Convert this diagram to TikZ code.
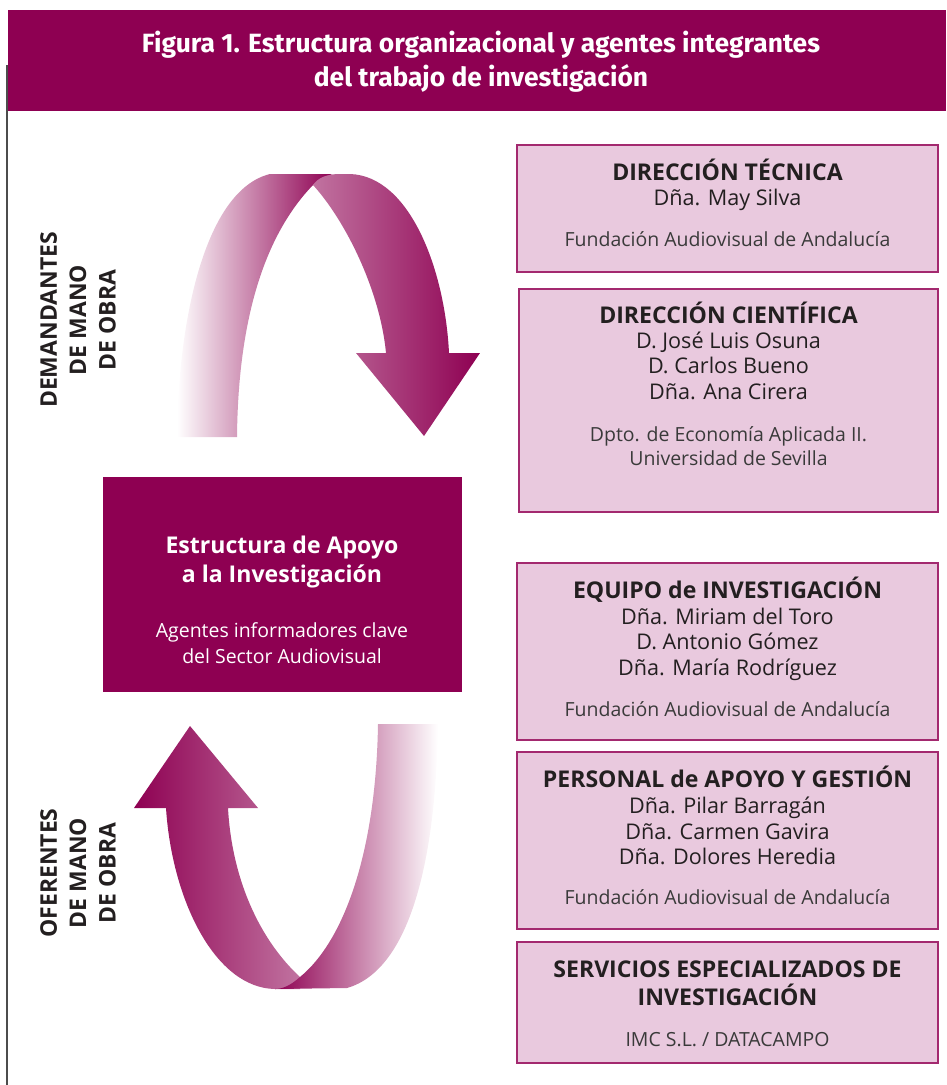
\documentclass[tikz,border=0pt]{standalone}
\usepackage{fontspec}
\setmainfont{Open Sans}
\newfontfamily\cabecera{Fira Sans}
\usepackage{tikz}
\usetikzlibrary{calc}
\definecolor{vino}{HTML}{8E0052}
\definecolor{rosa}{HTML}{E9C9DE}
\definecolor{borde}{HTML}{A3296F}
\definecolor{tinta}{HTML}{231F20}
\definecolor{gristexto}{HTML}{3A3A3A}

\begin{document}
\begin{tikzpicture}[x=0.75pt,y=-0.75pt,
  caja/.style={draw=borde,line width=0.9pt,fill=rosa},
  cabtexto/.style={anchor=base,inner sep=0pt,text=white,font=\cabecera\fontsize{19.8}{22}\selectfont\bfseries},
  titulo/.style={anchor=base,inner sep=0pt,text=tinta,font=\fontsize{17.3}{19}\selectfont\bfseries},
  nombre/.style={anchor=base,inner sep=0pt,text=tinta,font=\fontsize{16.2}{19}\selectfont},
  entidad/.style={anchor=base,inner sep=0pt,text=gristexto,font=\fontsize{14.6}{17}\selectfont},
  lateral/.style={rotate=90,align=center,inner sep=0pt,text=tinta,font=\fontsize{17.2}{22}\selectfont\bfseries}]
\useasboundingbox (0,0) rectangle (946,1085);
\begin{scope}
  \draw[gray!60!black,line width=0.8pt] (7,65) -- (7,1085);
  \fill[vino] (8,10) rectangle (946,111);
  \node[cabtexto] (fig1) at (481,52) {Figura 1. Estructura organizacional y agentes integrantes};
  \node[cabtexto] (fig2) at (481,86) {del trabajo de investigación};
\end{scope}

\shade[left color=white,right color=vino]
  (177,437) .. controls (178,320) and (205,190) .. (270,174) -- (332,174)
  -- (313,185) .. controls (260,240) and (238,330) .. (237,437) -- cycle;
\shade[left color=vino!55!white,right color=vino]
  (313,185) .. controls (318,178) and (326,174) .. (340,174) -- (350,174)
  .. controls (410,176) and (445,270) .. (449,353) -- (480,353) -- (424,436)
  -- (356,353) -- (386,353) .. controls (380,290) and (345,220) .. (313,185) -- cycle;

\shade[left color=vino,right color=vino!55!white]
  (228,808) -- (258,808) -- (190,726) -- (134,808) -- (166,808)
  .. controls (172,900) and (215,988) .. (275,989) -- (300,989) -- (300,977)
  .. controls (260,940) and (232,880) .. (228,808) -- cycle;
\shade[left color=vino,right color=white]
  (300,977) .. controls (290,986) and (282,989) .. (275,989) -- (347,988)
  .. controls (410,970) and (436,860) .. (438,724) -- (378,724)
  .. controls (376,850) and (345,940) .. (300,977) -- cycle;

\node[lateral] (demandantes) at (78,320) {DEMANDANTES\\DE MANO\\DE OBRA};
\node[lateral] (oferentes) at (78,873) {OFERENTES\\DE MANO\\DE OBRA};

\fill[vino] (103,477) rectangle (462,692);
\node[titulo,text=white] (apoyo1) at (282,553) {Estructura de Apoyo};
\node[titulo,text=white] (apoyo2) at (282,582) {a la Investigación};
\node[entidad,text=white] (apoyo3) at (282,637) {Agentes informadores clave};
\node[entidad,text=white] (apoyo4) at (282,663) {del Sector Audiovisual};

\draw[caja] (517,145) rectangle (938,272);
\node[titulo] (tecnica) at (727.5,180) {DIRECCIÓN TÉCNICA};
\node[nombre] (tecnica1) at (727.5,205) {Dña. May Silva};
\node[entidad] (tecnicaF) at (727.5,246) {Fundación Audiovisual de Andalucía};

\draw[caja] (519,289) rectangle (938,512);
\node[titulo] (cientifica) at (728.5,323) {DIRECCIÓN CIENTÍFICA};
\foreach \y/\n in {348/D. José Luis Osuna, 373/D. Carlos Bueno, 399/Dña. Ana Cirera}
  \node[nombre] (cientifica\y) at (728.5,\y) {\n};
\node[entidad] (cientificaF1) at (728.5,441) {Dpto. de Economía Aplicada II.};
\node[entidad] (cientificaF2) at (728.5,465) {Universidad de Sevilla};

\draw[caja] (517,563) rectangle (938,740);
\node[titulo] (equipo) at (727.5,598) {EQUIPO de INVESTIGACIÓN};
\foreach \y/\n in {624/Dña. Miriam del Toro, 649/D. Antonio Gómez, 675/Dña. María Rodríguez}
  \node[nombre] (equipo\y) at (727.5,\y) {\n};
\node[entidad] (equipoF) at (727.5,716) {Fundación Audiovisual de Andalucía};

\draw[caja] (517,752) rectangle (938,929);
\node[titulo] (personal) at (727.5,787) {PERSONAL de APOYO Y GESTIÓN};
\foreach \y/\n in {813/Dña. Pilar Barragán, 839/Dña. Carmen Gavira, 864/Dña. Dolores Heredia}
  \node[nombre] (personal\y) at (727.5,\y) {\n};
\node[entidad] (personalF) at (727.5,904) {Fundación Audiovisual de Andalucía};

\draw[caja] (517,942) rectangle (938,1063);
\node[titulo] (servicios1) at (727.5,977) {SERVICIOS ESPECIALIZADOS DE};
\node[titulo] (servicios2) at (727.5,1005) {INVESTIGACIÓN};
\node[entidad] (serviciosF) at (727.5,1046) {IMC S.L. / DATACAMPO};
\end{tikzpicture}
\end{document}
